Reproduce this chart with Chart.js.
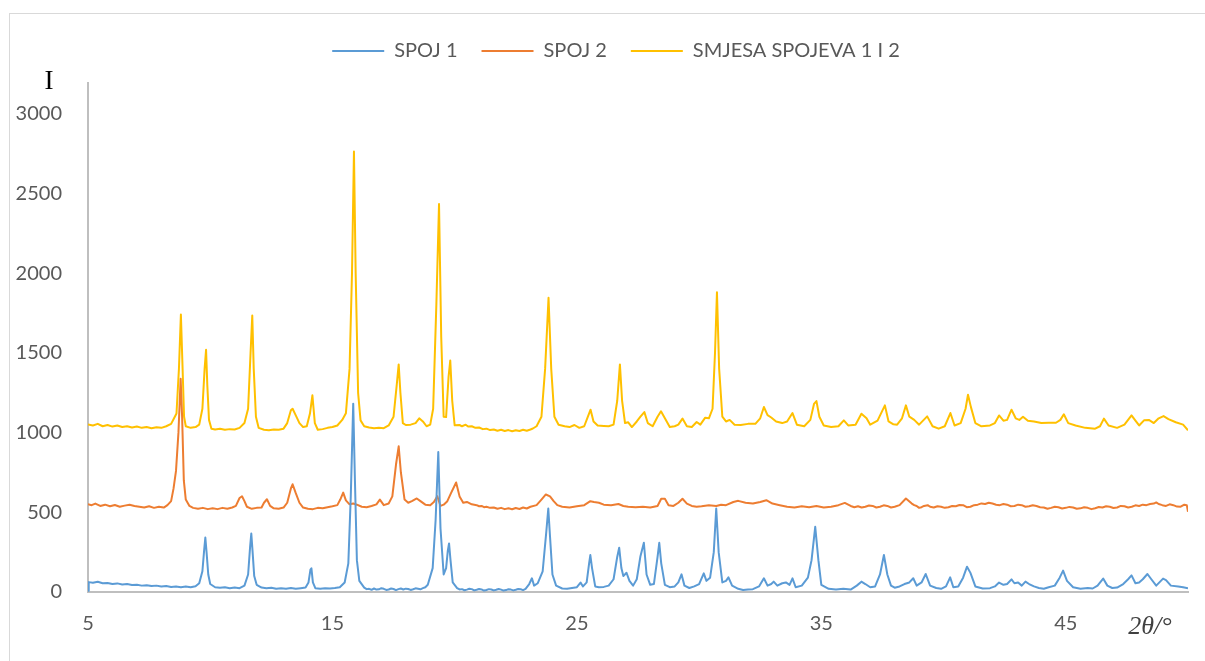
<!DOCTYPE html>
<html>
<head>
<meta charset="utf-8">
<script src="https://cdn.jsdelivr.net/npm/chart.js@4.4.0/dist/chart.umd.min.js"></script>
<style>
html, body { margin: 0; padding: 0; background: #fff; }
#wrap { position: relative; width: 1205px; height: 661px; overflow: hidden; }
#frame { position: absolute; left: 9px; top: 13px; width: 1200px; height: 660px; border: 1px solid #d9d9d9; }
canvas { position: absolute; left: 0; top: 0; }
</style>
</head>
<body>
<div id="wrap">
  <div id="frame"></div>
  <canvas id="xrdChart" width="1205" height="661"></canvas>
</div>
<script>
// ---------- data: [2theta, intensity] ----------
const seriesNames = ['SPOJ 1', 'SPOJ 2', 'SMJESA SPOJEVA 1 I 2'];
const seriesColors = ['#5B9BD5', '#ED7D31', '#FFC000'];
const xTicks = [5, 15, 25, 35, 45];
const yTicks = [0, 500, 1000, 1500, 2000, 2500, 3000];
const xTitle = '2θ/°';
const yTitle = 'I';

const spoj1 = [
  [5.00,8],[5.03,62],[5.2,58],[5.4,64],[5.6,55],[5.8,57],[6.0,50],[6.2,54],[6.4,47],[6.6,50],
  [6.8,44],[7.0,46],[7.2,40],[7.4,43],[7.6,37],[7.8,40],[8.0,34],[8.2,38],[8.4,32],[8.6,35],
  [8.8,30],[9.0,34],[9.2,30],[9.4,36],[9.55,55],[9.68,130],[9.75,260],[9.80,342],[9.85,250],[9.92,110],
  [10.0,50],[10.2,30],[10.4,26],[10.6,30],[10.8,24],[11.0,28],[11.2,24],[11.4,40],[11.55,110],[11.63,280],
  [11.68,367],[11.73,260],[11.8,100],[11.9,45],[12.1,28],[12.3,24],[12.5,27],[12.7,20],[12.9,24],[13.1,21],
  [13.3,25],[13.5,20],[13.7,24],[13.9,28],[14.02,60],[14.1,140],[14.14,148],[14.2,60],[14.3,24],[14.5,20],
  [14.7,24],[14.9,22],[15.1,25],[15.3,30],[15.5,60],[15.65,180],[15.75,600],[15.85,1182],[15.92,700],[16.0,200],
  [16.1,70],[16.3,28],[16.4,18],[16.5,20],[16.6,14],[16.7,22],[16.8,15],[16.9,17],[17.0,24],[17.1,20],
  [17.2,13],[17.3,16],[17.4,22],[17.5,19],[17.6,12],[17.7,18],[17.8,22],[17.9,16],[18.0,21],[18.1,19],
  [18.2,13],[18.3,17],[18.4,23],[18.5,20],[18.6,17],[18.7,24],[18.8,30],[18.9,45],[19.1,150],[19.22,450],
  [19.33,879],[19.42,400],[19.55,110],[19.65,150],[19.72,260],[19.77,305],[19.83,200],[19.92,60],[20.1,25],[20.2,16],
  [20.3,18],[20.4,11],[20.5,15],[20.6,20],[20.7,18],[20.8,10],[20.9,14],[21.0,19],[21.1,16],[21.2,9],
  [21.3,13],[21.4,18],[21.5,16],[21.6,10],[21.7,14],[21.8,19],[21.9,15],[22.0,9],[22.1,12],[22.2,17],
  [22.3,15],[22.4,10],[22.5,14],[22.6,19],[22.7,17],[22.8,12],[22.9,20],
  [23.05,50],[23.16,86],[23.25,40],[23.4,55],[23.6,130],[23.75,380],[23.83,524],[23.9,350],[24.0,110],[24.15,40],
  [24.4,22],[24.6,20],[24.8,25],[25.0,30],[25.15,59],[25.25,35],[25.4,60],[25.5,180],[25.55,232],[25.62,150],
  [25.75,35],[25.9,30],[26.1,32],[26.3,40],[26.5,80],[26.65,220],[26.73,278],[26.82,150],[26.9,100],[27.03,121],
  [27.15,70],[27.3,40],[27.45,80],[27.6,225],[27.74,309],[27.85,110],[28.0,45],[28.15,50],[28.3,220],[28.37,309],
  [28.45,180],[28.6,45],[28.8,30],[29.0,35],[29.15,60],[29.28,111],[29.4,40],[29.6,25],[29.8,35],[30.0,50],
  [30.19,117],[30.3,70],[30.45,90],[30.6,250],[30.7,524],[30.8,250],[30.95,60],[31.1,70],[31.2,92],[31.35,40],
  [31.6,20],[31.8,12],[32.0,15],[32.2,18],[32.45,35],[32.65,86],[32.8,40],[32.95,50],[33.05,65],[33.2,40],
  [33.4,55],[33.55,60],[33.7,45],[33.82,86],[33.95,30],[34.2,40],[34.45,90],[34.6,200],[34.75,409],[34.88,200],
  [35.0,45],[35.3,20],[35.6,15],[35.9,20],[36.2,15],[36.45,40],[36.64,65],[36.8,50],[37.0,30],[37.2,35],
  [37.4,110],[37.56,232],[37.7,110],[37.85,40],[38.0,27],[38.2,35],[38.4,50],[38.6,60],[38.76,86],[38.9,40],
  [39.1,60],[39.27,113],[39.45,40],[39.7,25],[39.9,20],[40.1,35],[40.27,92],[40.4,30],[40.6,35],[40.8,90],
  [40.96,159],[41.1,120],[41.3,35],[41.6,22],[41.9,24],[42.1,35],[42.27,59],[42.45,45],[42.6,50],[42.78,79],
  [42.9,55],[43.05,60],[43.2,40],[43.35,65],[43.5,50],[43.7,35],[43.9,25],[44.1,20],[44.3,30],[44.55,40],
  [44.75,90],[44.89,134],[45.05,70],[45.3,30],[45.6,20],[45.9,25],[46.1,22],[46.3,40],[46.53,84],[46.7,40],
  [46.9,25],[47.1,28],[47.35,50],[47.55,80],[47.69,104],[47.85,55],[48.0,60],[48.15,80],[48.34,113],[48.5,80],
  [48.7,40],[48.98,84],[49.1,75],[49.3,40],[49.6,35],[49.8,30],[50.0,23]
];

const spoj2 = [
  [5.0,550],[5.15,545],[5.3,555],[5.5,540],[5.7,548],[5.9,538],[6.1,546],[6.3,535],[6.5,542],[6.7,548],
  [6.9,540],[7.1,535],[7.3,530],[7.5,538],[7.7,528],[7.9,535],[8.1,530],[8.25,545],[8.4,570],[8.5,650],
  [8.6,760],[8.7,1000],[8.79,1338],[8.85,1100],[8.92,700],[9.0,580],[9.15,540],[9.3,528],[9.5,522],[9.7,528],
  [9.9,520],[10.1,525],[10.3,520],[10.5,528],[10.7,522],[10.9,530],[11.05,540],[11.2,590],[11.3,601],[11.4,570],
  [11.5,535],[11.7,522],[11.9,528],[12.1,530],[12.2,560],[12.32,582],[12.45,540],[12.6,525],[12.8,522],[13.0,530],
  [13.15,560],[13.3,650],[13.37,676],[13.5,620],[13.65,560],[13.8,530],[14.0,522],[14.2,520],[14.4,528],[14.6,525],
  [14.8,532],[15.0,538],[15.2,545],[15.32,580],[15.44,624],[15.55,575],[15.7,550],[15.85,555],[16.0,548],[16.2,535],
  [16.4,532],[16.6,540],[16.8,550],[16.94,580],[17.1,545],[17.3,555],[17.45,600],[17.6,800],[17.71,914],[17.8,750],
  [17.95,580],[18.1,560],[18.25,570],[18.45,587],[18.6,570],[18.8,548],[19.0,545],[19.15,565],[19.29,601],[19.42,540],
  [19.55,548],[19.7,570],[19.85,620],[20.06,687],[20.2,600],[20.35,560],[20.5,565],[20.7,550],[20.9,545],[21.0,538],
  [21.1,540],[21.2,532],[21.3,535],[21.45,528],[21.6,530],[21.75,522],[21.9,528],[22.05,520],[22.2,525],[22.35,519],
  [22.5,527],[22.65,521],[22.8,530],[22.95,524],[23.1,535],[23.35,545],[23.55,580],[23.73,612],
  [23.9,600],[24.05,570],[24.2,545],[24.4,535],[24.7,530],[25.0,538],[25.3,545],[25.55,570],[25.7,565],[25.9,560],
  [26.1,548],[26.4,545],[26.7,552],[26.9,540],[27.1,535],[27.4,532],[27.7,535],[28.0,530],[28.3,540],[28.45,585],
  [28.6,585],[28.75,545],[28.95,540],[29.15,560],[29.32,585],[29.5,555],[29.7,540],[29.9,535],[30.1,538],[30.4,545],
  [30.7,540],[30.9,548],[31.1,545],[31.4,565],[31.6,572],[31.9,560],[32.2,555],[32.5,565],[32.75,576],[33.0,555],
  [33.3,545],[33.6,535],[33.9,530],[34.2,538],[34.5,532],[34.8,540],[35.1,530],[35.4,535],[35.7,545],[35.96,559],
  [36.2,540],[36.35,532],[36.5,538],[36.65,530],[36.8,535],[36.95,543],[37.1,540],[37.25,530],[37.4,535],[37.55,544],
  [37.7,540],[37.85,530],[38.0,535],[38.2,545],[38.46,587],[38.7,555],[38.8,545],[38.9,540],[39.0,528],[39.1,532],
  [39.2,540],[39.35,545],[39.45,535],[39.6,530],[39.75,538],[39.9,535],[40.05,528],[40.2,532],[40.35,540],[40.5,538],
  [40.65,546],[40.8,545],[40.95,532],[41.1,535],[41.25,545],[41.4,548],[41.55,556],[41.7,552],[41.85,560],[42.0,555],
  [42.15,548],[42.3,545],[42.45,552],[42.6,548],[42.75,538],[42.9,540],[43.05,548],[43.2,545],[43.35,535],[43.5,538],
  [43.65,544],[43.8,540],[43.95,532],[44.1,530],[44.25,522],[44.4,528],[44.55,535],[44.7,532],[44.85,524],[45.0,528],
  [45.15,534],[45.3,530],[45.45,522],[45.6,525],[45.75,532],[45.9,528],[46.05,520],[46.2,526],[46.35,533],[46.5,530],
  [46.65,538],[46.8,535],[46.95,527],[47.1,530],[47.25,540],[47.4,538],[47.55,530],[47.7,535],[47.85,544],[48.0,540],
  [48.15,548],[48.3,545],[48.45,552],[48.6,555],[48.7,562],[48.8,552],[48.95,545],[49.1,540],[49.25,550],[49.4,545],
  [49.55,536],[49.7,535],[49.85,548],[49.95,545],[50.0,503]
];

const smjesa = [
  [5.0,1052],[5.2,1045],[5.4,1055],[5.6,1040],[5.8,1048],[6.0,1038],[6.2,1045],[6.4,1035],[6.6,1040],[6.8,1032],
  [7.0,1038],[7.2,1030],[7.4,1035],[7.6,1028],[7.8,1034],[8.0,1030],[8.2,1040],[8.4,1055],[8.52,1090],[8.62,1120],
  [8.72,1400],[8.8,1741],[8.86,1450],[8.93,1100],[9.0,1040],[9.2,1030],[9.4,1035],[9.55,1050],[9.68,1150],[9.77,1400],
  [9.83,1520],[9.88,1300],[9.95,1080],[10.05,1025],[10.2,1020],[10.4,1025],[10.6,1018],[10.8,1022],[11.0,1020],[11.2,1030],
  [11.4,1060],[11.55,1150],[11.65,1500],[11.72,1735],[11.78,1400],[11.87,1100],[11.98,1030],[12.2,1018],[12.4,1015],[12.6,1020],
  [12.8,1018],[13.0,1025],[13.15,1060],[13.3,1140],[13.37,1150],[13.5,1108],[13.65,1060],[13.8,1035],[13.95,1040],[14.08,1120],
  [14.18,1234],[14.28,1060],[14.4,1018],[14.6,1022],[14.8,1030],[15.0,1035],[15.2,1045],[15.4,1080],[15.55,1121],[15.7,1400],
  [15.8,2000],[15.88,2764],[15.95,2000],[16.05,1250],[16.15,1077],[16.3,1040],[16.5,1032],[16.7,1028],[16.9,1030],[17.1,1028],
  [17.3,1045],[17.5,1100],[17.63,1300],[17.71,1428],[17.78,1250],[17.88,1060],[18.0,1048],[18.2,1050],[18.4,1060],[18.55,1090],
  [18.7,1070],[18.85,1040],[19.0,1050],[19.12,1150],[19.25,1800],[19.36,2434],[19.45,1600],[19.55,1100],[19.65,1098],[19.75,1350],
  [19.82,1453],[19.9,1200],[20.0,1046],[20.2,1048],[20.3,1040],[20.45,1050],[20.55,1038],[20.7,1040],[20.85,1030],[21.0,1032],
  [21.15,1022],[21.3,1025],[21.45,1016],[21.6,1020],[21.75,1012],[21.9,1018],[22.05,1010],[22.2,1016],[22.35,1009],[22.5,1015],
  [22.65,1010],[22.8,1018],[22.95,1012],[23.1,1020],[23.2,1026],[23.35,1040],[23.55,1100],[23.7,1400],[23.84,1846],[23.95,1400],[24.08,1100],
  [24.25,1050],[24.5,1040],[24.7,1035],[24.9,1048],[25.1,1030],[25.3,1040],[25.45,1100],[25.56,1144],[25.68,1070],[25.85,1045],
  [26.1,1042],[26.3,1040],[26.5,1050],[26.65,1200],[26.76,1428],[26.85,1200],[26.97,1060],[27.1,1065],[27.25,1035],[27.45,1070],
  [27.6,1100],[27.76,1129],[27.9,1060],[28.1,1040],[28.3,1100],[28.44,1134],[28.6,1090],[28.8,1035],[29.0,1040],[29.15,1050],
  [29.32,1088],[29.5,1040],[29.7,1035],[29.9,1067],[30.05,1050],[30.25,1094],[30.4,1090],[30.55,1150],[30.65,1500],[30.73,1881],
  [30.82,1400],[30.95,1100],[31.1,1070],[31.25,1080],[31.45,1050],[31.7,1048],[32.0,1055],[32.3,1055],[32.5,1090],[32.65,1161],
  [32.8,1110],[32.95,1095],[33.15,1070],[33.4,1060],[33.6,1070],[33.82,1123],[34.0,1050],[34.3,1040],[34.55,1080],[34.7,1180],
  [34.8,1198],[34.92,1100],[35.1,1045],[35.4,1035],[35.7,1040],[35.92,1077],[36.1,1045],[36.4,1050],[36.64,1119],[36.85,1090],
  [37.0,1050],[37.3,1075],[37.6,1171],[37.75,1070],[37.95,1052],[38.1,1050],[38.3,1090],[38.46,1171],[38.6,1100],[38.8,1080],
  [39.0,1050],[39.33,1102],[39.55,1040],[39.8,1025],[40.05,1040],[40.28,1123],[40.45,1045],[40.7,1060],[40.9,1150],[41.0,1238],
  [41.12,1160],[41.3,1060],[41.55,1040],[41.9,1045],[42.1,1060],[42.27,1108],[42.45,1075],[42.6,1080],[42.78,1144],[42.95,1090],
  [43.1,1080],[43.25,1100],[43.45,1075],[43.7,1070],[44.0,1060],[44.3,1062],[44.6,1062],[44.78,1080],[44.92,1115],[45.1,1060],
  [45.4,1045],[45.8,1030],[46.2,1025],[46.4,1040],[46.56,1088],[46.75,1045],[47.1,1030],[47.4,1050],[47.69,1108],[47.85,1075],
  [48.0,1045],[48.2,1077],[48.4,1080],[48.6,1060],[48.8,1090],[49.0,1104],[49.2,1085],[49.5,1065],[49.8,1050],[50.0,1015]
];

// ---------- chart ----------
const allSeries = [spoj1, spoj2, smjesa];

// axis titles sit at odd spots in the original, so draw them by hand
const axisTitles = {
  id: 'axisTitles',
  afterLayout(chart) {
    // legend in the original is centred a bit right of the canvas middle
    chart.legend.left += 44;
  },
  afterDraw(chart) {
    const ctx = chart.ctx;
    ctx.save();
    ctx.textAlign = 'center';
    ctx.textBaseline = 'middle';
    ctx.fillStyle = '#000';
    ctx.font = '27px "Liberation Serif"';
    ctx.fillText(yTitle, 49, 82);
    ctx.fillStyle = '#404040';
    ctx.font = 'italic 26px "Liberation Serif"';
    ctx.fillText(xTitle, 1150, 627);
    ctx.restore();
  }
};

new Chart(document.getElementById('xrdChart'), {
  type: 'line',
  data: {
    datasets: allSeries.map((s, i) => ({
      label: seriesNames[i],
      data: s.map(p => ({x: p[0], y: p[1]})),
      borderColor: seriesColors[i],
      backgroundColor: seriesColors[i],
      borderWidth: 2,
      pointRadius: 0,
      tension: 0,
      borderJoinStyle: 'round'
    }))
  },
  options: {
    responsive: false,
    animation: false,
    layout: {padding: {top: 17, right: 17, left: 0, bottom: 0}},
    plugins: {
      tooltip: {enabled: false},
      // empty title used only as a spacer between legend and plot
      title: {display: true, text: '', weight: 500, padding: 0, font: {size: 10}},
      legend: {
        position: 'top',
        labels: {
          boxWidth: 52,
          boxHeight: 2,
          padding: 24,
          color: '#595959',
          font: {family: 'Lato', size: 20},
          generateLabels(chart) {
            return Chart.defaults.plugins.legend.labels.generateLabels(chart)
              .map(l => ({...l, lineWidth: 0}));
          }
        }
      }
    },
    scales: {
      x: {
        type: 'linear',
        min: 5,
        max: 50,
        afterBuildTicks: axis => { axis.ticks = xTicks.map(v => ({value: v})); },
        afterFit: axis => { axis.height = 69; },
        grid: {display: false, drawTicks: false},
        border: {display: true, color: '#bfbfbf', width: 2},
        ticks: {color: '#595959', font: {family: 'Lato', size: 20}, padding: 20, maxRotation: 0,
                callback: v => String(v)}
      },
      y: {
        min: 0,
        max: 3194,
        afterBuildTicks: axis => { axis.ticks = yTicks.map(v => ({value: v})); },
        afterFit: axis => { axis.width = 88; },
        grid: {display: false, drawTicks: false},
        border: {display: true, color: '#bfbfbf', width: 2},
        ticks: {color: '#595959', font: {family: 'Lato', size: 20}, padding: 26,
                callback: v => String(v)}
      }
    }
  },
  plugins: [axisTitles]
});
</script>
</body>
</html>
